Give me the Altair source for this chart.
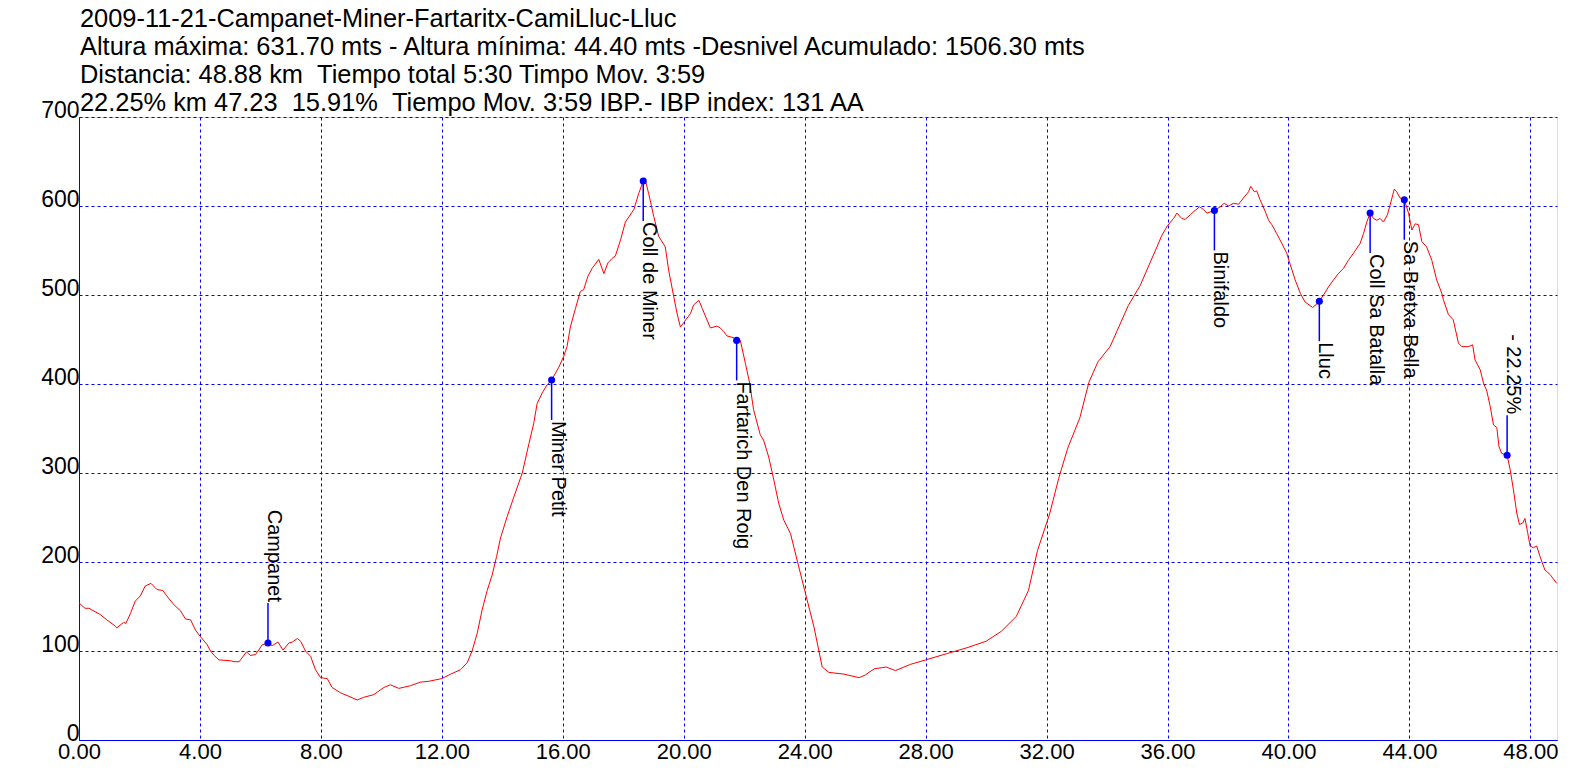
import altair as alt
import pandas as pd

# Elevation profile (km, m)
km = [0.00, 0.20, 0.33, 0.70, 0.92, 1.20, 1.25, 1.47, 1.55, 1.70, 1.86, 2.03, 2.19, 2.38, 2.58, 2.77,
      2.97, 3.14, 3.36, 3.52, 3.69, 3.86, 4.02, 4.24, 4.35, 4.47, 4.63, 5.02, 5.12, 5.30, 5.34, 5.54,
      5.67, 5.84, 6.06, 6.25, 6.39, 6.58, 6.75, 6.94, 7.05, 7.22, 7.33, 7.49, 7.66, 7.82, 7.99, 8.21,
      8.37, 8.65, 8.93, 9.20, 9.42, 9.75, 10.08, 10.30, 10.58, 10.96, 11.29, 11.57, 12.00, 12.29, 12.62,
      12.84, 13.00, 13.17, 13.33, 13.50, 13.66, 13.81, 13.94, 14.16, 14.38, 14.66, 14.88, 15.04, 15.15,
      15.32, 15.48, 15.63, 15.87, 16.03, 16.14, 16.25, 16.42, 16.58, 16.69, 16.83, 16.97, 17.19, 17.36,
      17.49, 17.63, 17.74, 17.91, 18.07, 18.35, 18.51, 18.66, 18.71, 18.84, 19.01, 19.17, 19.39, 19.50,
      19.67, 19.78, 19.89, 20.00, 20.22, 20.33, 20.50, 20.61, 20.77, 20.88, 21.10, 21.21, 21.32, 21.43,
      21.65, 21.75, 21.87, 22.04, 22.18, 22.31, 22.53, 22.64, 22.81, 22.98, 23.14, 23.31, 23.53, 23.64,
      24.00, 24.30, 24.58, 24.80, 25.30, 25.80, 26.00, 26.30, 26.70, 27.00, 27.50, 28.00, 28.70, 29.40,
      30.00, 30.50, 31.00, 31.40, 31.70, 32.10, 32.40, 32.70, 33.10, 33.40, 33.70, 34.10, 34.40, 34.70,
      35.10, 35.43, 35.65, 35.81, 36.00, 36.20, 36.31, 36.47, 36.58, 36.75, 36.91, 37.06, 37.19, 37.30,
      37.55, 37.74, 37.87, 38.02, 38.18, 38.35, 38.51, 38.68, 38.75, 38.87, 38.95, 39.06, 39.23, 39.34,
      39.45, 39.61, 39.78, 39.94, 40.06, 40.22, 40.39, 40.55, 40.80, 40.94, 41.02, 41.16, 41.32, 41.49,
      41.65, 41.82, 41.98, 42.15, 42.37, 42.48, 42.59, 42.70, 42.81, 42.92, 43.03, 43.14, 43.27, 43.36,
      43.50, 43.58, 43.69, 43.83, 43.97, 44.08, 44.19, 44.30, 44.41, 44.57, 44.74, 44.90, 45.07, 45.12,
      45.29, 45.45, 45.62, 45.73, 45.95, 46.09, 46.17, 46.34, 46.45, 46.56, 46.67, 46.78, 46.89, 46.96,
      47.05, 47.23, 47.33, 47.44, 47.55, 47.64, 47.75, 47.82, 47.91, 47.99, 48.10, 48.21, 48.32, 48.48,
      48.65, 48.87]
elev = [154, 148, 148, 141, 135, 128, 126, 132, 131, 142, 156, 162, 173, 176, 169, 168,
        159, 152, 145, 136, 135, 123, 116, 107, 100, 95, 90, 89, 88, 88, 90, 99,
        95, 96, 107, 109, 106, 110, 101, 109, 110, 114, 111, 100, 94, 79, 70, 69,
        59, 53, 49, 45, 48, 51, 59, 62, 58, 61, 65, 66, 69, 74, 79,
        87, 100, 120, 146, 168, 185, 206, 227, 251, 273, 300, 333, 356, 378,
        390, 399, 404.5, 419, 431, 442, 464, 485, 504, 506, 521, 530, 540, 524,
        536, 541, 544, 562, 582, 596, 614, 628, 631.7, 614, 588, 566, 554, 528,
        498, 479, 464, 469, 479, 489, 494, 485, 472, 463, 465, 463, 459, 454,
        452, 449, 449, 423, 401, 371, 343, 337, 318, 292, 266, 247, 232, 217,
        168, 128, 82, 76, 74, 70, 73, 80, 82, 78, 85, 90, 97, 104,
        111, 122, 139, 168, 213, 254, 294, 328, 362, 402, 425, 442, 465, 488,
        511, 537, 554, 567, 578, 586, 592, 586, 585, 590, 595, 599, 596, 592,
        595, 599, 603, 600, 603, 602, 609, 616, 622, 616, 617, 607, 594, 584,
        579, 569, 558, 547, 534, 517, 502, 492, 486, 490, 493, 500, 509, 517,
        524, 530, 539, 547, 558, 569, 582, 592, 586, 584, 586, 582, 590, 601,
        619, 616, 609, 607, 592, 573, 580, 579, 560, 554, 539, 517, 502, 495,
        478, 472, 446, 442, 442, 444, 427, 416, 401, 392, 375, 354, 351, 330,
        322, 320, 304, 281, 255, 242, 244, 249, 233, 218, 216, 218, 206, 191,
        186, 176]

# Waypoints
wp_names = ["Campanet", "Miner Petit", "Coll de Miner", "Fartarich Den Roig", "Binifaldo",
            "Lluc", "Coll Sa Batalla", "Sa Bretxa Bella", "- 22.25%"]
wp_km = [6.25, 15.63, 18.66, 21.75, 37.55, 41.02, 42.70, 43.83, 47.23]
wp_elev = [109, 404.5, 628, 449, 595, 493, 592, 607, 320]
wp_dir = ["up", "down", "down", "down", "down", "down", "down", "down", "up"]

title_lines = [
    "2009-11-21-Campanet-Miner-Fartaritx-CamiLluc-Lluc",
    "Altura máxima: 631.70 mts - Altura mínima: 44.40 mts -Desnivel Acumulado: 1506.30 mts",
    "Distancia: 48.88 km \u00a0Tiempo total 5:30 Timpo Mov. 3:59",
    "22.25% km 47.23 \u00a015.91% \u00a0Tiempo Mov. 3:59 IBP.- IBP index: 131 AA",
]
x_ticks = [0, 4, 8, 12, 16, 20, 24, 28, 32, 36, 40, 44, 48]
y_ticks = [0, 100, 200, 300, 400, 500, 600, 700]

BLUE = "#0000FF"
FONT = "Liberation Sans"

prof = pd.DataFrame({"km": km, "elev": elev})
wp = pd.DataFrame({"name": wp_names, "km": wp_km, "elev": wp_elev, "dir": wp_dir})

xs = alt.Scale(domain=[0, 48.88], nice=False, zero=False)
ys = alt.Scale(domain=[0, 700], nice=False)

x_enc = alt.X("km:Q", scale=xs, axis=alt.Axis(
    values=x_ticks, format=".2f", title=None, grid=True, gridColor=BLUE, gridDash=[3, 3],
    gridWidth=1, ticks=False, domainColor=BLUE, domainWidth=1, labelFont=FONT,
    labelFontSize=22, labelColor="black", labelPadding=1, labelFlush=False))
y_enc = alt.Y("elev:Q", scale=ys, axis=alt.Axis(
    values=y_ticks, title=None, grid=True, gridColor=BLUE, gridDash=[3, 3], gridWidth=1,
    ticks=False, domainColor=BLUE, domainWidth=1, labelFont=FONT, labelFontSize=23,
    labelColor="black", labelPadding=0, labelBaseline="alphabetic", labelFlush=False,
    labelOverlap=False))

line = alt.Chart(prof).mark_line(color="#FF0000", strokeWidth=1).encode(x=x_enc, y=y_enc)

down = wp[wp["dir"] == "down"]
up = wp[wp["dir"] == "up"]

rule_down = alt.Chart(down).mark_rule(color=BLUE, strokeWidth=1.5, y2Offset=40).encode(
    x="km:Q", y="elev:Q", y2="elev:Q")
rule_up = alt.Chart(up).mark_rule(color=BLUE, strokeWidth=1.5, y2Offset=-40).encode(
    x="km:Q", y="elev:Q", y2="elev:Q")
text_down = alt.Chart(down).mark_text(angle=90, align="left", baseline="alphabetic", dx=41,
                                      font=FONT, fontSize=20, color="black").encode(
    x="km:Q", y="elev:Q", text="name:N")
text_up = alt.Chart(up).mark_text(angle=90, align="right", baseline="alphabetic", dx=-41,
                                  font=FONT, fontSize=20, color="black").encode(
    x="km:Q", y="elev:Q", text="name:N")
pts = alt.Chart(wp).mark_circle(color=BLUE, size=50, opacity=1).encode(x="km:Q", y="elev:Q")

chart = alt.layer(line, rule_down, rule_up, text_down, text_up, pts).properties(
    width=1478, height=623,
    title=alt.TitleParams(text=title_lines, anchor="start", frame="group", font=FONT,
                          fontSize=25.4, fontWeight="normal", color="black", lineHeight=28,
                          offset=2, dx=1, dy=19),
    autosize=alt.AutoSizeParams(type="none"),
    padding={"left": 71, "top": 109, "right": 20, "bottom": 30},
).configure_view(stroke=BLUE, strokeWidth=1).configure(background="white")

chart.save("out.html", embed_options={"renderer": "svg", "actions": False})
